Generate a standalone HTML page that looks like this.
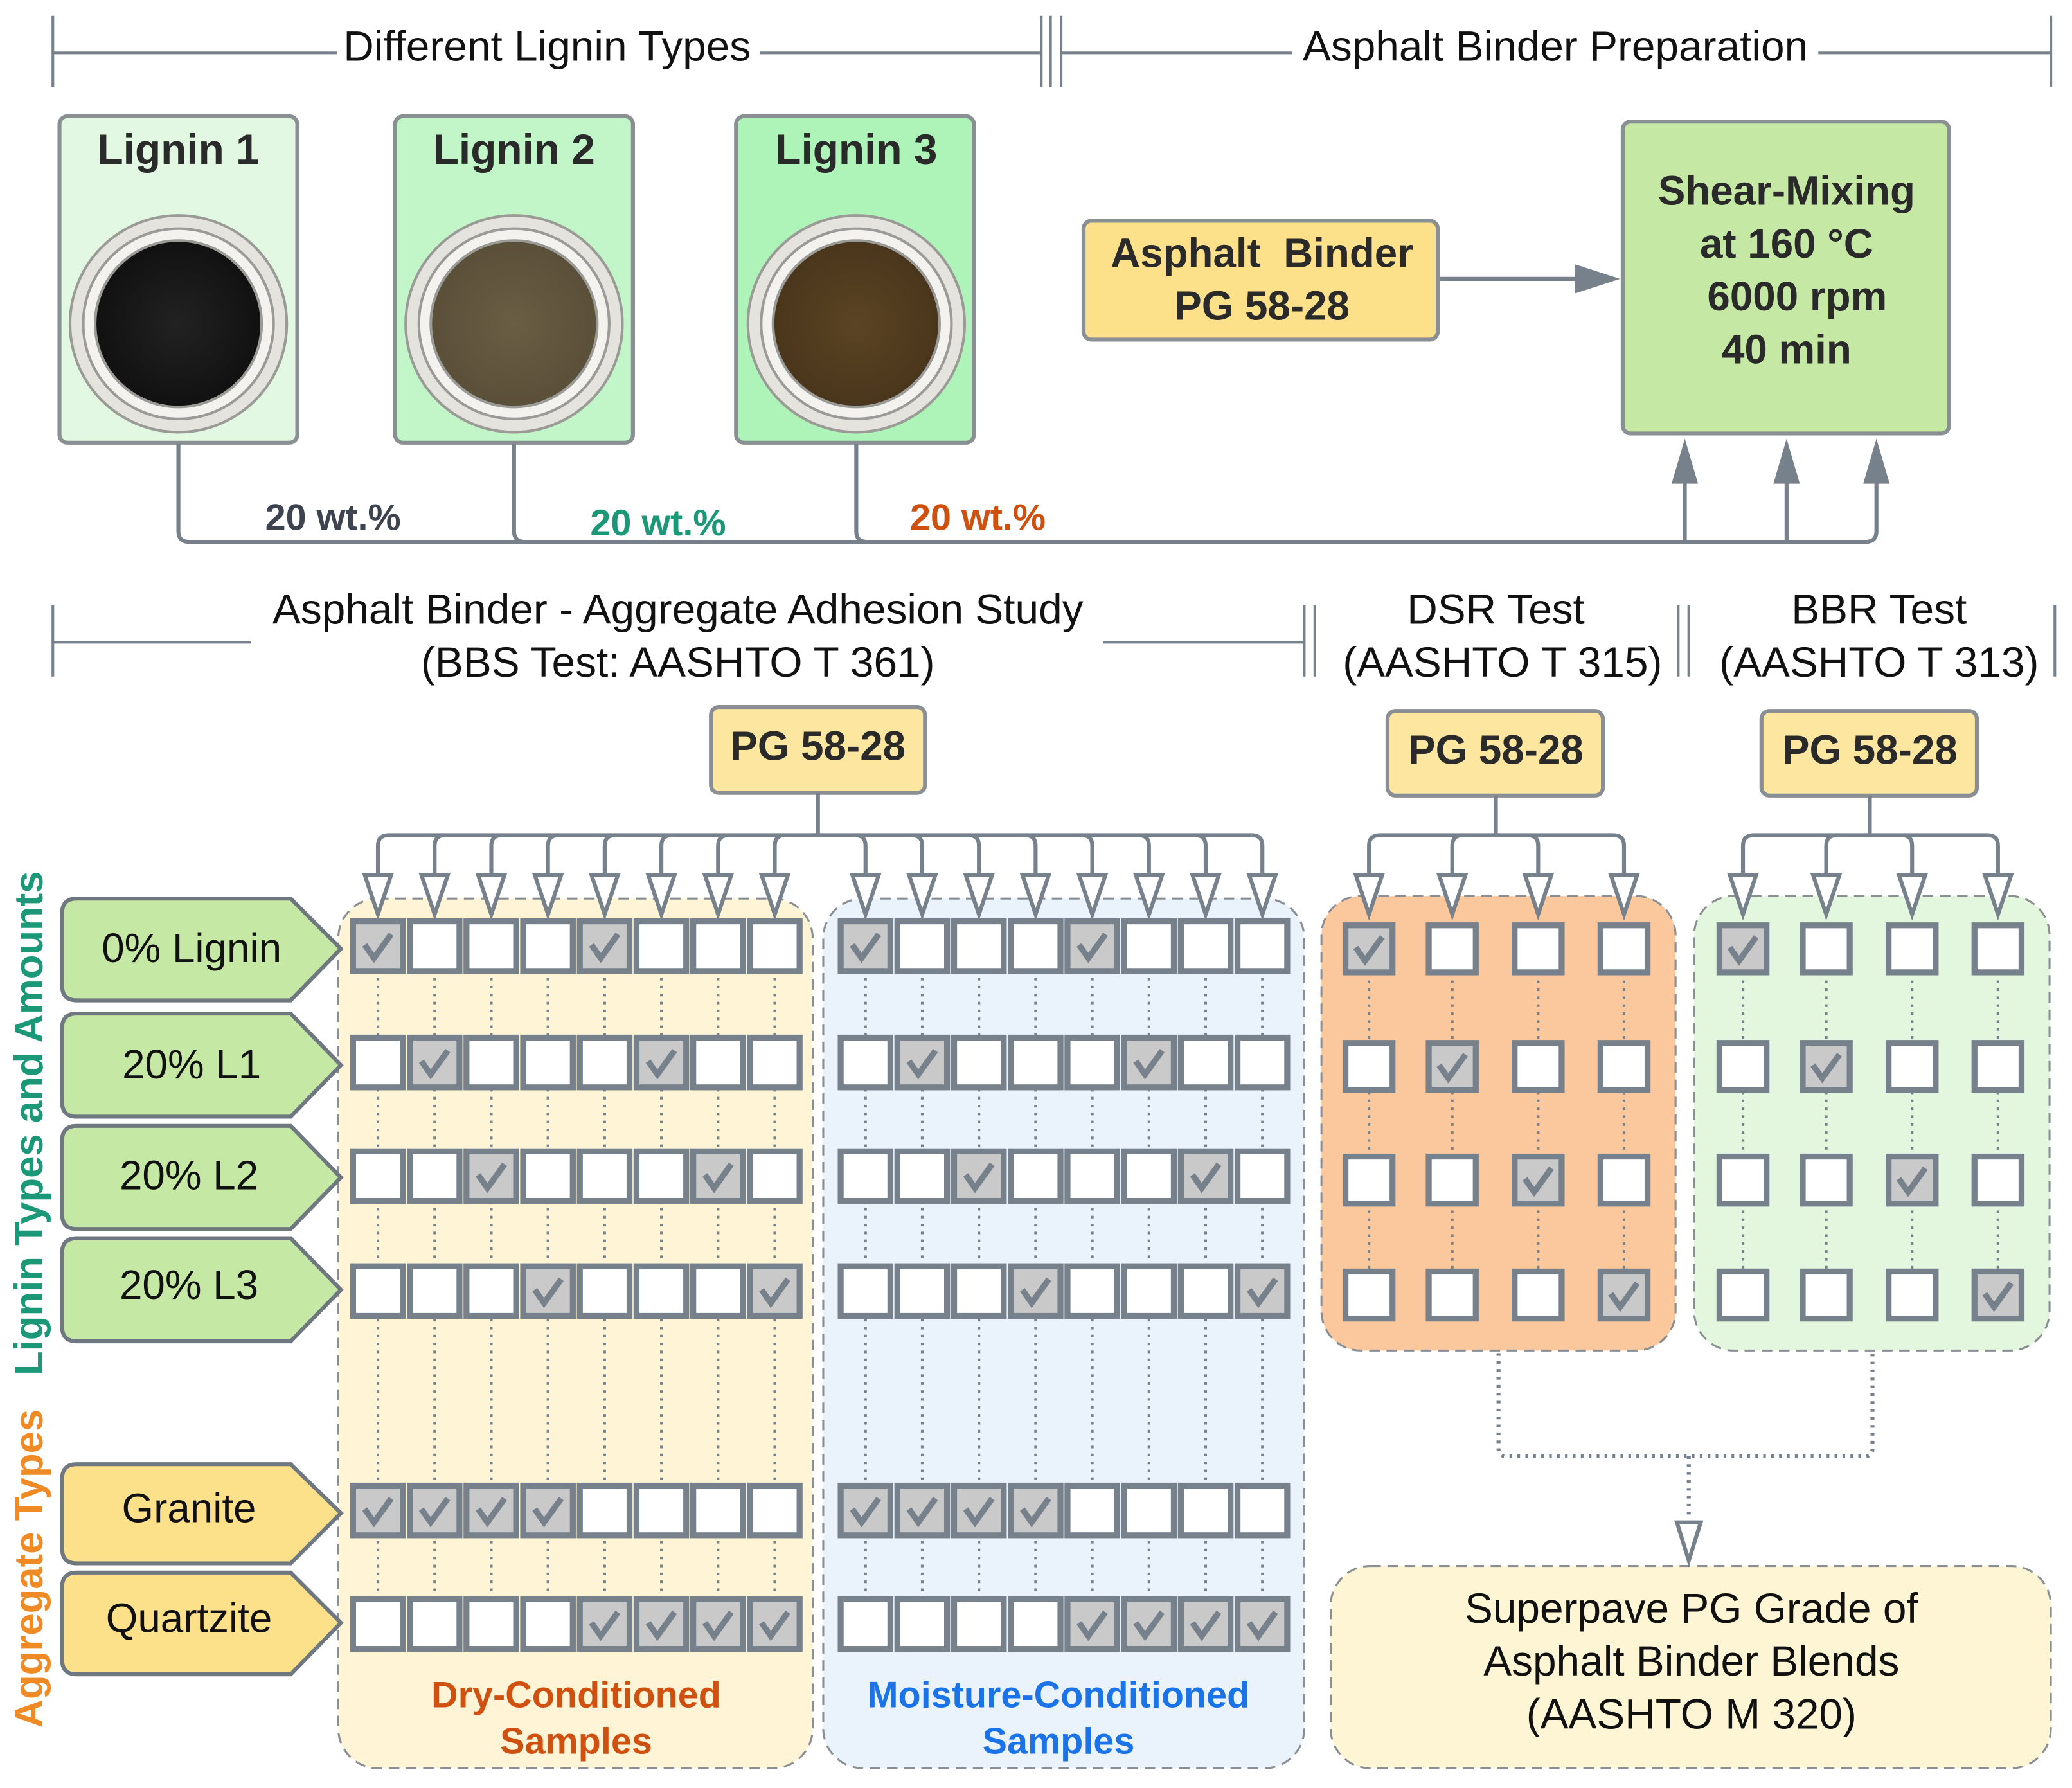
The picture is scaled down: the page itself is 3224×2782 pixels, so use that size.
<!DOCTYPE html>
<html><head><meta charset="utf-8"><style>html,body{margin:0;padding:0;background:#fff}svg{display:block}</style></head>
<body>
<svg id="s" xmlns="http://www.w3.org/2000/svg" width="3224" height="2782" viewBox="0 0 1568 1353" font-family="Liberation Sans, sans-serif">
<defs>
<radialGradient id="g1"><stop offset="0" stop-color="#222"/><stop offset="1" stop-color="#111"/></radialGradient>
<radialGradient id="g2"><stop offset="0" stop-color="#6a5e44"/><stop offset="1" stop-color="#5a4f38"/></radialGradient>
<radialGradient id="g3"><stop offset="0" stop-color="#5b4424"/><stop offset="1" stop-color="#4a361c"/></radialGradient>
</defs>
<rect width="1568" height="1353" fill="#fff"/>
<g stroke="#77818b" stroke-width="2" fill="none">
<path d="M40 12V66M40 40H255M575 40H788M788 12V66M795 12V66"/>
<path d="M803 12V66M803 40H978M1376 40H1552M1552 12V66"/>
<path d="M40 458V512M40 486H190M835 486H987M987 458V512M995 458V512"/>
<path d="M1270 458V512M1278 458V512M1555 458V512"/>
</g>
<g font-size="32" fill="#111" text-anchor="middle">
<text x="414" y="46">Different Lignin Types</text>
<text x="1177" y="46">Asphalt Binder Preparation</text>
<text x="513" y="472">Asphalt Binder - Aggregate Adhesion Study</text>
<text x="513" y="512">(BBS Test: AASHTO T 361)</text>
<text x="1132" y="472">DSR Test</text>
<text x="1137" y="512">(AASHTO T 315)</text>
<text x="1422" y="472">BBR Test</text>
<text x="1422" y="512">(AASHTO T 313)</text>
</g>
<g stroke="#8a8f94" stroke-width="3">
<rect x="45" y="88" width="180" height="247" rx="6" fill="#e2f8e2"/>
<rect x="299" y="88" width="180" height="247" rx="6" fill="#c2f5c8"/>
<rect x="557" y="88" width="180" height="247" rx="6" fill="#aef3b8"/>
</g>
<g font-size="32" font-weight="bold" fill="#2a2a2a" text-anchor="middle">
<text x="135" y="124">Lignin 1</text><text x="389" y="124">Lignin 2</text><text x="648" y="124">Lignin 3</text>
</g>
<g stroke="#9a9a96" stroke-width="2">
<circle cx="135" cy="245" r="82" fill="#e4e3dd"/><circle cx="135" cy="245" r="72" fill="#f3f2ee"/><circle cx="135" cy="245" r="63" fill="url(#g1)"/>
<circle cx="389" cy="245" r="82" fill="#e4e3dd"/><circle cx="389" cy="245" r="72" fill="#f3f2ee"/><circle cx="389" cy="245" r="63" fill="url(#g2)"/>
<circle cx="648" cy="245" r="82" fill="#e4e3dd"/><circle cx="648" cy="245" r="72" fill="#f3f2ee"/><circle cx="648" cy="245" r="63" fill="url(#g3)"/>
</g>
<g stroke="#77818b" stroke-width="3" fill="none">
<path d="M135 336V402Q135 410 143 410H1412Q1420 410 1420 402V360"/>
<path d="M389 336V402Q389 410 397 410"/>
<path d="M648 336V402Q648 410 656 410"/>
<path d="M1275 410V360M1352 410V360"/>
<path d="M1088 211H1195"/>
</g>
<g fill="#77818b">
<path d="M1265 366L1275 332L1285 366Z"/><path d="M1342 366L1352 332L1362 366Z"/><path d="M1410 366L1420 332L1430 366Z"/>
<path d="M1192 200L1226 211L1192 222Z"/>
</g>
<g font-size="28" font-weight="bold">
<text x="252" y="401" fill="#3d4450" text-anchor="middle">20 wt.%</text>
<text x="498" y="405" fill="#1a9878" text-anchor="middle">20 wt.%</text>
<text x="740" y="401" fill="#d05010" text-anchor="middle">20 wt.%</text>
</g>
<rect x="820" y="167" width="268" height="90" rx="6" fill="#fde08a" stroke="#8a8f94" stroke-width="3"/>
<rect x="1228" y="92" width="247" height="236" rx="6" fill="#c5e8a5" stroke="#8a8f94" stroke-width="3"/>
<g font-size="31" font-weight="bold" fill="#2a2a2a" text-anchor="middle">
<text x="955" y="202" xml:space="preserve">Asphalt  Binder</text><text x="955" y="242">PG 58-28</text>
<text x="1352" y="155">Shear-Mixing</text><text x="1352" y="195">at 160 °C</text><text x="1360" y="235">6000 rpm</text><text x="1352" y="275">40 min</text>
</g>
<g stroke="#8a8f94" stroke-width="1.5" stroke-dasharray="8 5">
<rect x="256" y="680" width="359" height="658" rx="30" fill="#fff5d6"/>
<rect x="623" y="680" width="364" height="658" rx="30" fill="#eaf3fc"/>
<rect x="1000" y="678" width="268" height="344" rx="30" fill="#fbc89d"/>
<rect x="1282" y="678" width="269" height="344" rx="30" fill="#e2f7de"/>
<rect x="1007" y="1185" width="545" height="153" rx="30" fill="#fef5d4"/>
</g>
<g stroke="#8a8f94" stroke-width="3" fill="#fde7a0">
<rect x="538" y="535" width="162" height="65" rx="6"/><rect x="1050" y="538" width="163" height="64" rx="6"/><rect x="1333" y="538" width="163" height="64" rx="6"/>
</g>
<g font-size="31" font-weight="bold" fill="#2a2a2a" text-anchor="middle">
<text x="619" y="575">PG 58-28</text><text x="1132" y="578">PG 58-28</text><text x="1415" y="578">PG 58-28</text>
</g>
<g stroke="#6f7880" stroke-width="3">
<path d="M58 680H220L258 718L220 757H58Q47 757 47 746V691Q47 680 58 680Z" fill="#c5e8a5"/>
<path d="M58 767H220L258 806L220 845H58Q47 845 47 834V778Q47 767 58 767Z" fill="#c5e8a5"/>
<path d="M58 852H220L258 891L220 930H58Q47 930 47 919V863Q47 852 58 852Z" fill="#c5e8a5"/>
<path d="M58 937H220L258 976L220 1015H58Q47 1015 47 1004V948Q47 937 58 937Z" fill="#c5e8a5"/>
<path d="M58 1108H220L258 1145L220 1183H58Q47 1183 47 1172V1119Q47 1108 58 1108Z" fill="#fde08a"/>
<path d="M58 1190H220L258 1228L220 1267H58Q47 1267 47 1256V1201Q47 1190 58 1190Z" fill="#fde08a"/>
</g>
<g font-size="31" fill="#111" text-anchor="middle">
<text x="145" y="728">0% Lignin</text><text x="145" y="816">20% L1</text><text x="143" y="900">20% L2</text><text x="143" y="983">20% L3</text>
<text x="143" y="1152">Granite</text><text x="143" y="1235">Quartzite</text>
</g>
<g font-size="30" font-weight="bold" text-anchor="middle">
<text transform="translate(32 850) rotate(-90)" fill="#1a9878">Lignin Types and Amounts</text>
<text transform="translate(32 1187) rotate(-90)" fill="#f08a24">Aggregate Types</text>
</g>
<g font-size="28" font-weight="bold" text-anchor="middle">
<text x="436" y="1292" fill="#d05010">Dry-Conditioned</text><text x="436" y="1327" fill="#d05010">Samples</text>
<text x="801" y="1292" fill="#1a73e8">Moisture-Conditioned</text><text x="801" y="1327" fill="#1a73e8">Samples</text>
</g>
<g font-size="32" fill="#111" text-anchor="middle">
<text x="1280" y="1228">Superpave PG Grade of</text><text x="1280" y="1268">Asphalt Binder Blends</text><text x="1280" y="1308">(AASHTO M 320)</text>
</g>
<g stroke="#77818b" stroke-width="3" fill="none" stroke-dasharray="2 4">
<path d="M1134 1024V1096Q1134 1102 1140 1102H1411Q1417 1102 1417 1096V1024M1278 1102V1150"/>
</g>
<path d="M1269 1152L1278 1181L1287 1152Z" fill="#fff" stroke="#77818b" stroke-width="3"/>
<g id="gen"></g>
</svg>
<script>
(function(){
var NS="http://www.w3.org/2000/svg",g=document.getElementById("gen"),C="#77818b";
function el(n,a){var e=document.createElementNS(NS,n);for(var k in a)e.setAttribute(k,a[k]);g.appendChild(e);return e;}
function tree(cx,y0,xs){
 var y1=632;el("path",{d:"M"+cx+" "+y0+"V"+y1,stroke:C,"stroke-width":3,fill:"none"});
 var a=xs[0],b=xs[xs.length-1];
 xs.forEach(function(x){el("path",{d:"M"+x+" 664V"+(y1+8)+"Q"+x+" "+y1+" "+(x+(x<cx?8:-8))+" "+y1,stroke:C,"stroke-width":3,fill:"none"});});
 el("path",{d:"M"+(a+8)+" "+y1+"H"+(b-8),stroke:C,"stroke-width":3,fill:"none"});
 xs.forEach(function(x){el("path",{d:"M"+(x-10)+" 662L"+x+" 692L"+(x+10)+" 662Z",fill:"#fff",stroke:C,"stroke-width":3});});
}
function box(x,y,s,chk){
 el("rect",{x:x-s/2+2.2,y:y-s/2+2.2,width:s-4.4,height:s-4.4,fill:chk?"#c9c9c9":"#fff",stroke:C,"stroke-width":4.5});
 if(chk)el("path",{d:"M"+(x-10)+" "+(y-1)+"L"+(x-3)+" "+(y+9)+"L"+(x+10)+" "+(y-9),stroke:C,"stroke-width":4.5,fill:"none"});
}
function grid(xs,ys,s,checks){
 xs.forEach(function(x){el("path",{d:"M"+x+" "+ys[0]+"V"+ys[ys.length-1],stroke:C,"stroke-width":2,"stroke-dasharray":"2 4",fill:"none"});});
 ys.forEach(function(y,r){xs.forEach(function(x,c){box(x,y,s,checks(r,c));});});
}
var dx=[],mx=[];for(var i=0;i<8;i++){dx.push(286+i*42.9);mx.push(655+i*42.9);}
var rows=[716,804,890,977,1143,1229];
function bbs(r,c){if(r<4)return c%4==r;if(r==4)return c<4;return c>=4;}
tree(619,600,dx.concat(mx));
grid(dx,rows,42,bbs);grid(mx,rows,42,bbs);
var sx=[1036,1099,1164,1229],bx=[1319,1382,1447,1512],sr=[718,807,893,980];
tree(1132,602,sx);tree(1415,602,bx);
grid(sx,sr,40,function(r,c){return r==c;});grid(bx,sr,40,function(r,c){return r==c;});
})();
</script>
</body></html>
